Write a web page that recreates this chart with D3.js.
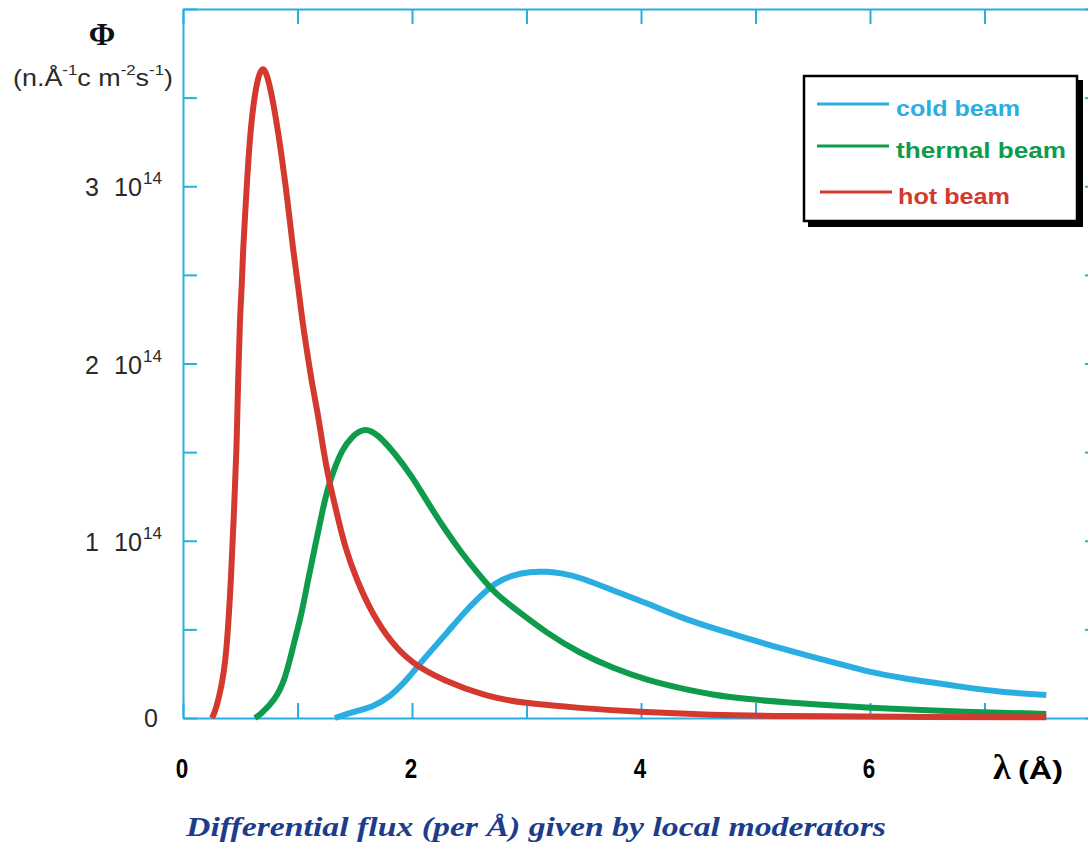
<!DOCTYPE html>
<html>
<head>
<meta charset="utf-8">
<script src="https://cdn.jsdelivr.net/npm/d3@7"></script>
<style>
  html, body { margin: 0; padding: 0; background: #ffffff; }
  svg { display: block; }
</style>
</head>
<body>
<svg id="chart" width="1088" height="845"></svg>
<script>
// Wavelength (Å) and differential flux (units of 1e14 n.Å-1.cm-2.s-1) for each moderator
const hotLambda = [0.253, 0.288, 0.349, 0.384, 0.419, 0.445, 0.469, 0.480, 0.497, 0.515, 0.524, 0.541, 0.558, 0.576, 0.602, 0.646, 0.698, 0.750, 0.812, 0.855, 0.899, 0.925, 0.960, 1.003, 1.038, 1.082, 1.126, 1.178, 1.222, 1.274, 1.344, 1.414, 1.518, 1.649, 1.824, 1.998, 2.260, 2.661, 2.967, 3.464, 3.970, 4.625, 5.209, 6.257, 7.540];
const hotFlux   = [0.000, 0.045, 0.214, 0.400, 0.777, 1.155, 1.527, 1.887, 2.259, 2.451, 2.637, 2.823, 3.014, 3.200, 3.400, 3.600, 3.690, 3.600, 3.386, 3.200, 2.990, 2.850, 2.650, 2.451, 2.259, 2.073, 1.887, 1.718, 1.527, 1.341, 1.155, 0.963, 0.777, 0.592, 0.420, 0.310, 0.214, 0.118, 0.085, 0.056, 0.034, 0.017, 0.011, 0.006, 0.004];

const thermalLambda = [0.628, 0.672, 0.803, 0.890, 0.960, 1.038, 1.091, 1.152, 1.213, 1.265, 1.326, 1.387, 1.475, 1.588, 1.702, 1.850, 1.998, 2.138, 2.286, 2.435, 2.574, 2.723, 2.880, 3.176, 3.464, 3.752, 4.049, 4.337, 4.625, 4.921, 5.209, 5.995, 6.867, 7.539];
const thermalFlux   = [0.000, 0.017, 0.101, 0.214, 0.400, 0.592, 0.777, 0.963, 1.155, 1.301, 1.414, 1.510, 1.590, 1.640, 1.600, 1.493, 1.365, 1.215, 1.065, 0.930, 0.817, 0.704, 0.625, 0.479, 0.366, 0.282, 0.214, 0.169, 0.130, 0.107, 0.090, 0.056, 0.034, 0.023];

const coldLambda = [1.326, 1.483, 1.658, 1.806, 1.955, 2.094, 2.304, 2.435, 2.574, 2.740, 2.880, 3.028, 3.176, 3.316, 3.464, 3.752, 4.049, 4.337, 4.625, 4.921, 5.209, 5.707, 5.995, 6.283, 6.579, 6.867, 7.155, 7.539];
const coldFlux   = [0.000, 0.034, 0.062, 0.118, 0.214, 0.327, 0.479, 0.580, 0.675, 0.770, 0.806, 0.826, 0.826, 0.817, 0.794, 0.721, 0.648, 0.569, 0.507, 0.451, 0.394, 0.310, 0.259, 0.225, 0.197, 0.169, 0.146, 0.130];

const xTickValues = [0, 1, 2, 3, 4, 5, 6, 7, 8];
const xTickLabels = ["0", "2", "4", "6"];
const xLabelValues = [0, 2, 4, 6];
const yTickValues = [0, 0.5, 1, 1.5, 2, 2.5, 3, 3.5, 4];
const yLabelValues = [1, 2, 3];
const yLabelMantissa = ["1", "2", "3"];
const yLabelExponent = "14";

const seriesNames = ["cold beam", "thermal beam", "hot beam"];
const seriesColors = ["#2aaee2", "#0e9c4c", "#d3392f"];

const svg = d3.select("#chart");
const axisColor = "#2aaee2";

const x = d3.scaleLinear().domain([0, 8]).range([183, 1099]);
const y = d3.scaleLinear().domain([0, 4]).range([718, 9]);

// Frame with inward ticks on all four sides
function styleAxis(g) {
  g.select(".domain").attr("stroke", axisColor).attr("stroke-width", 2);
  g.selectAll(".tick line").attr("stroke", axisColor).attr("stroke-width", 2);
}
svg.append("g").attr("transform", `translate(${x(0)},0)`)
  .call(d3.axisRight(y).tickValues(yTickValues).tickSize(14).tickSizeOuter(0).tickFormat(""))
  .call(styleAxis);
svg.append("g").attr("transform", `translate(${x(8)},0)`)
  .call(d3.axisLeft(y).tickValues(yTickValues).tickSize(14).tickSizeOuter(0).tickFormat(""))
  .call(styleAxis);
svg.append("g").attr("transform", `translate(0,${y(0)})`)
  .call(d3.axisTop(x).tickValues(xTickValues).tickSize(15).tickSizeOuter(0).tickFormat(""))
  .call(styleAxis);
svg.append("g").attr("transform", `translate(0,${y(4)})`)
  .call(d3.axisBottom(x).tickValues(xTickValues).tickSize(15).tickSizeOuter(0).tickFormat(""))
  .call(styleAxis);

// Curves
const line = d3.line()
  .x(d => x(d[0]))
  .y(d => y(d[1]))
  .curve(d3.curveBasis);

const curves = [
  { lam: coldLambda, flux: coldFlux, color: seriesColors[0] },
  { lam: thermalLambda, flux: thermalFlux, color: seriesColors[1] },
  { lam: hotLambda, flux: hotFlux, color: seriesColors[2] }
];
curves.forEach(c => {
  svg.append("path")
    .datum(d3.zip(c.lam, c.flux))
    .attr("d", line)
    .attr("fill", "none")
    .attr("stroke", c.color)
    .attr("stroke-width", 6)
    .attr("stroke-linejoin", "round");
});

// Y tick labels: "n 10^14"
const labelFont = "'Liberation Sans', Arial, sans-serif";
svg.append("text")
  .attr("x", 158).attr("y", y(0) + 9)
  .attr("text-anchor", "end")
  .attr("font-family", labelFont).attr("font-size", 25)
  .attr("fill", "#2a2a2a")
  .text("0");
yLabelValues.forEach((v, i) => {
  svg.append("text")
    .attr("x", 85).attr("y", y(v) + 10)
    .attr("font-family", labelFont).attr("font-size", 25)
    .attr("fill", "#2a2a2a")
    .text(yLabelMantissa[i]);
  svg.append("text")
    .attr("x", 114).attr("y", y(v) + 10)
    .attr("font-family", labelFont).attr("font-size", 25)
    .attr("fill", "#2a2a2a")
    .attr("textLength", 28).attr("lengthAdjust", "spacingAndGlyphs")
    .text("10");
  svg.append("text")
    .attr("x", 143).attr("y", y(v) - 2)
    .attr("font-family", labelFont).attr("font-size", 17)
    .attr("fill", "#2a2a2a")
    .text(yLabelExponent);
});

// Y axis title
svg.append("text")
  .attr("x", 102).attr("y", 45)
  .attr("text-anchor", "middle")
  .attr("font-family", "'Liberation Serif', 'Times New Roman', serif")
  .attr("font-weight", "bold").attr("font-size", 32)
  .attr("fill", "#111")
  .text("Φ");
const unit = svg.append("text")
  .attr("x", 13).attr("y", 86)
  .attr("font-family", labelFont).attr("font-size", 24)
  .attr("fill", "#2a2a2a")
  .attr("textLength", 160).attr("lengthAdjust", "spacingAndGlyphs");
unit.append("tspan").text("(n.Å");
unit.append("tspan").attr("dy", -11).attr("font-size", 15).text("-1");
unit.append("tspan").attr("dy", 11).text("c m");
unit.append("tspan").attr("dy", -11).attr("font-size", 15).text("-2");
unit.append("tspan").attr("dy", 11).text("s");
unit.append("tspan").attr("dy", -11).attr("font-size", 15).text("-1");
unit.append("tspan").attr("dy", 11).text(")");

// X tick labels
xLabelValues.forEach((v, i) => {
  const cx = x(v) - 1;
  svg.append("text")
    .attr("x", cx).attr("y", 778)
    .attr("text-anchor", "middle")
    .attr("font-family", labelFont).attr("font-weight", "bold").attr("font-size", 28)
    .attr("fill", "#000")
    .attr("transform", `translate(${cx},0) scale(0.8,1) translate(${-cx},0)`)
    .text(xTickLabels[i]);
});

// X axis title
svg.append("text")
  .attr("x", 993).attr("y", 779)
  .attr("font-family", "'Liberation Serif', serif").attr("font-weight", "bold").attr("font-size", 36)
  .attr("fill", "#000")
  .text("λ");
svg.append("text")
  .attr("x", 1018).attr("y", 779)
  .attr("font-family", labelFont).attr("font-weight", "bold").attr("font-size", 26)
  .attr("fill", "#000")
  .attr("textLength", 45).attr("lengthAdjust", "spacingAndGlyphs")
  .text("(Å)");

// Caption
svg.append("text")
  .attr("x", 186).attr("y", 836)
  .attr("font-family", "'Liberation Serif', 'Times New Roman', serif")
  .attr("font-style", "italic").attr("font-weight", "bold").attr("font-size", 27)
  .attr("fill", "#1c3d8c")
  .attr("textLength", 700).attr("lengthAdjust", "spacingAndGlyphs")
  .text("Differential flux (per Å) given by local moderators");

// Legend
const legend = svg.append("g");
legend.append("rect")
  .attr("x", 808).attr("y", 80).attr("width", 275).attr("height", 147)
  .attr("fill", "#000");
legend.append("rect")
  .attr("x", 804).attr("y", 76).attr("width", 273).attr("height", 145)
  .attr("fill", "#fff").attr("stroke", "#000").attr("stroke-width", 2.5);

const legendRows = [
  { y: 104, x1: 817, x2: 889, tx: 896, tw: 124 },
  { y: 146, x1: 817, x2: 889, tx: 896, tw: 170 },
  { y: 192, x1: 820, x2: 892, tx: 898, tw: 112 }
];
legendRows.forEach((r, i) => {
  legend.append("line")
    .attr("x1", r.x1).attr("x2", r.x2).attr("y1", r.y).attr("y2", r.y)
    .attr("stroke", seriesColors[i]).attr("stroke-width", 3);
  legend.append("text")
    .attr("x", r.tx).attr("y", r.y + 12)
    .attr("font-family", labelFont).attr("font-weight", "bold").attr("font-size", 22)
    .attr("fill", seriesColors[i])
    .attr("textLength", r.tw).attr("lengthAdjust", "spacingAndGlyphs")
    .text(seriesNames[i]);
});
</script>
</body>
</html>
